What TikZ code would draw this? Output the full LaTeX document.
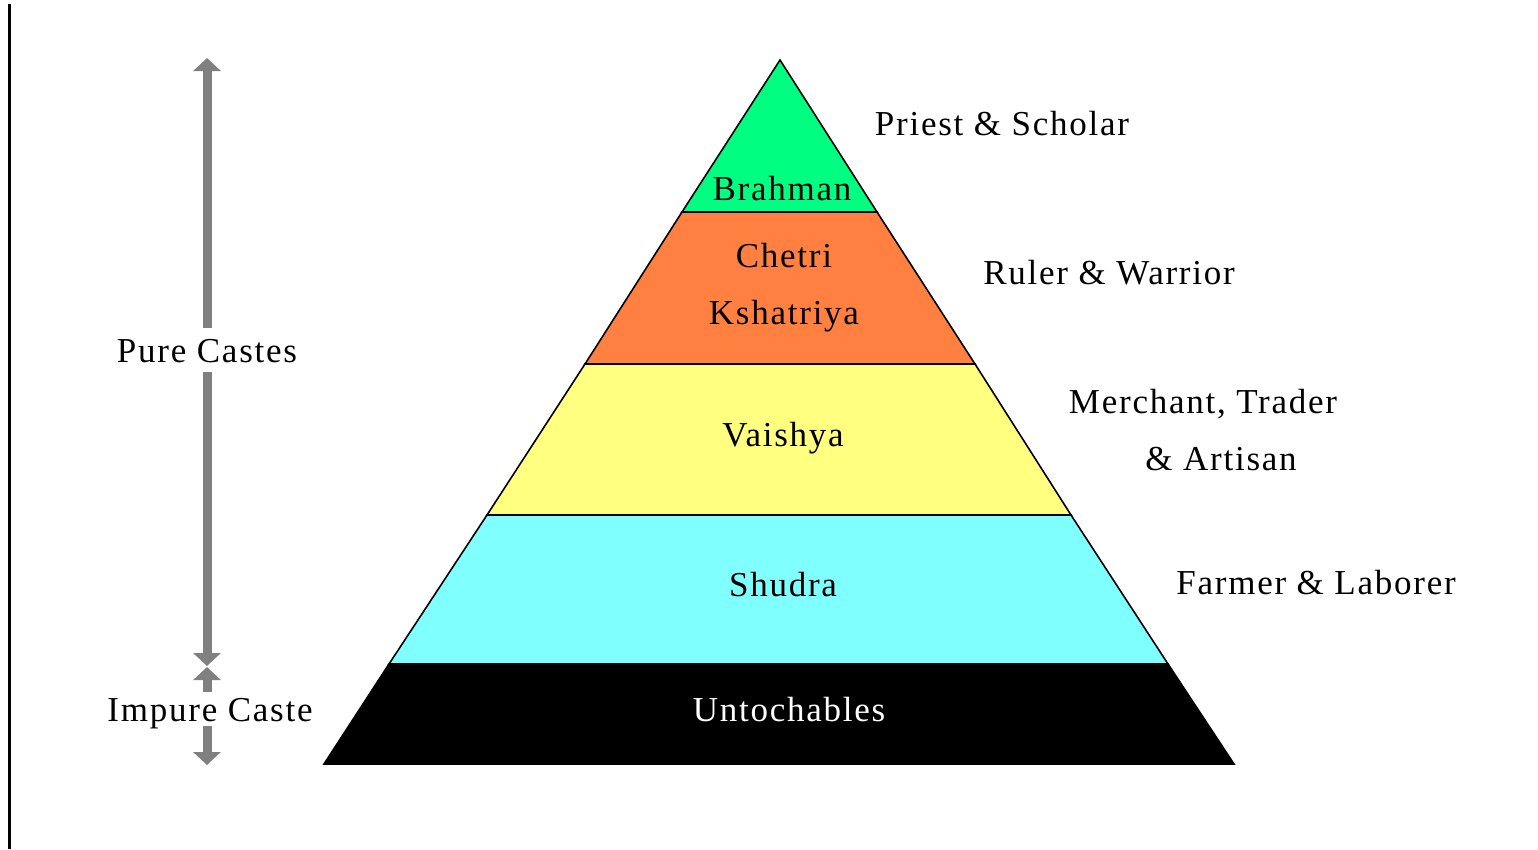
\documentclass[tikz,border=0pt]{standalone}
\usepackage{fontspec}
\setmainfont{Liberation Serif}
\newfontfamily\labfont{Liberation Serif}[LetterSpace=5]
\usetikzlibrary{arrows.meta}
\definecolor{cbrah}{RGB}{0,255,128}
\definecolor{cchet}{RGB}{255,128,64}
\definecolor{cvais}{RGB}{255,255,128}
\definecolor{cshud}{RGB}{128,255,255}
\definecolor{cgray}{RGB}{128,128,128}
\tikzset{
  lab/.style={font=\labfont\fontsize{35}{57}\selectfont, inner sep=0pt, align=center},
  band/.style={draw=black, line width=1.6pt, line join=miter},
  garrow/.style={draw=cgray, line width=9pt, -{Triangle[width=27pt,length=13pt]}},
  sidelab/.style={lab, text height=24pt, text depth=0pt, anchor=base}
}
\begin{document}
\begin{tikzpicture}[x=1pt,y=-1pt]
\useasboundingbox (0,0) rectangle (1538,849);
% left border line
\coordinate (lt) at (9.5,4);
\coordinate (lb) at (9.5,849);
\draw[line width=3pt] (lt) -- (lb);
% pyramid bands
\filldraw[band, fill=cbrah] (780,60) -- (877,212) -- (682,212) -- cycle;
\filldraw[band, fill=cchet] (682,212) -- (877,212) -- (975,364) -- (585,364) -- cycle;
\filldraw[band, fill=cvais] (585,364) -- (975,364) -- (1071,515) -- (487,515) -- cycle;
\filldraw[band, fill=cshud] (487,515) -- (1071,515) -- (1168,664) -- (389,664) -- cycle;
\filldraw[band, fill=black] (389,664) -- (1168,664) -- (1234,764) -- (324,764) -- cycle;
% band labels
\node[lab, anchor=base] (brah) at (782,200) {Brahman};
\node[lab, anchor=base] (chet) at (784,324) {Chetri\\Kshatriya};
\node[lab, anchor=base] (vais) at (783,446) {Vaishya};
\node[lab, anchor=base] (shud) at (783,596) {Shudra};
\node[lab, anchor=base, text=white] (untc) at (789,721) {Untochables};
% right labels
\node[lab, anchor=base] (pries) at (1002,135) {Priest \& Scholar};
\node[lab, anchor=base] (ruler) at (1109,284) {Ruler \& Warrior};
\node[lab, anchor=base] (merch) at (1203,470) {Merchant, Trader\\\hspace*{36pt}\& Artisan};
\node[lab, anchor=base] (farm) at (1316,594) {Farmer \& Laborer};
% left arrows
\coordinate (pcTop) at (207,58);
\coordinate (pcBot) at (207,666);
\coordinate (icTop) at (207,667);
\coordinate (icBot) at (207,765);
\node[sidelab, inner ysep=10pt] (pure) at (207,362) {Pure Castes};
\node[sidelab, inner ysep=5pt] (impure) at (210,721) {Impure Caste};
\draw[garrow] (pure.north -| pcTop) -- (pcTop);
\draw[garrow] (pure.south -| pcBot) -- (pcBot);
\draw[garrow] (impure.north -| icTop) -- (icTop);
\draw[garrow] (impure.south -| icBot) -- (icBot);
\end{tikzpicture}
\end{document}
